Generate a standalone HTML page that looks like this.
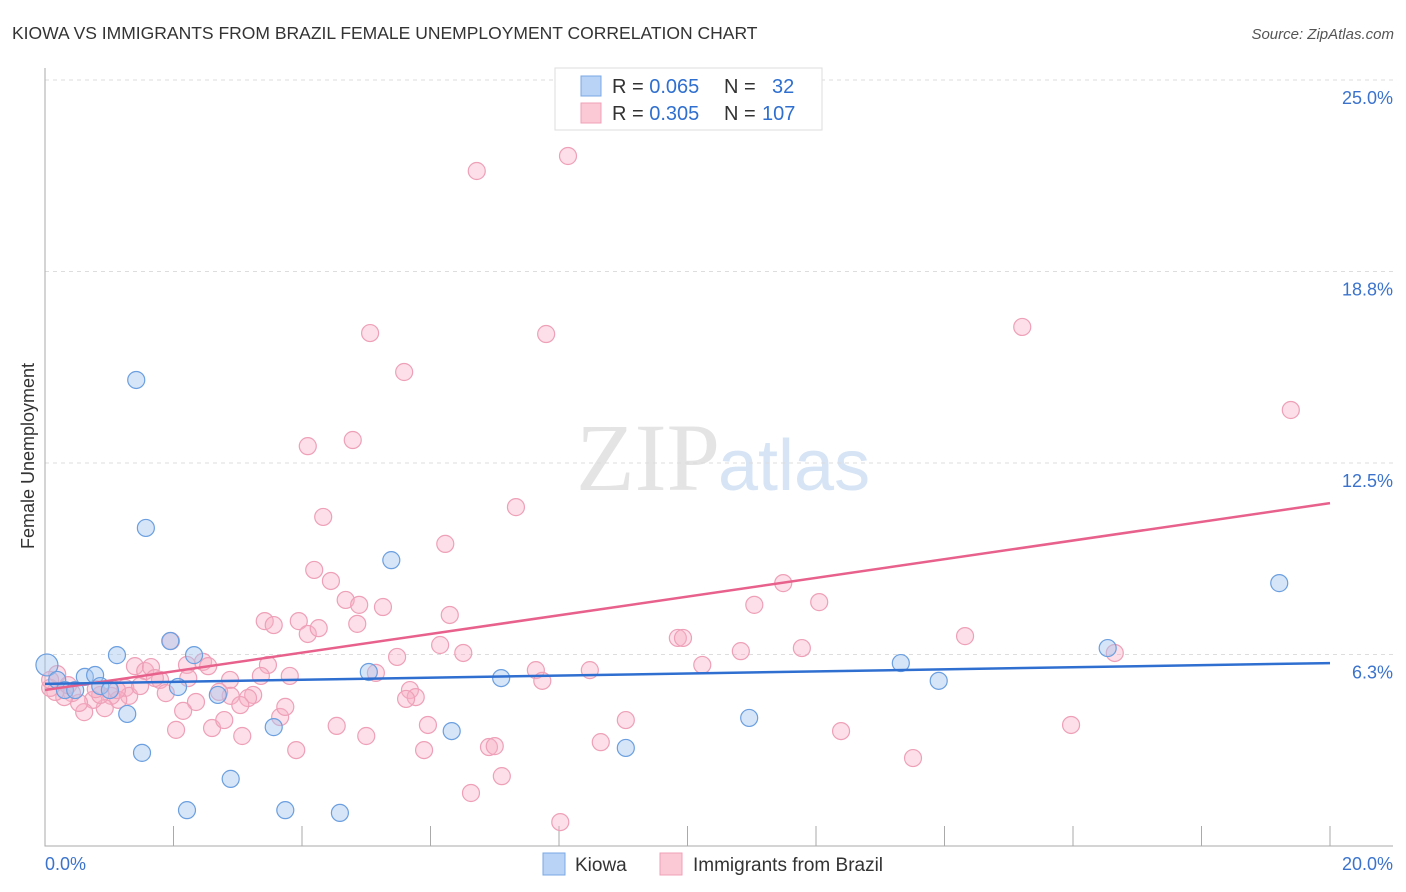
<!DOCTYPE html>
<html><head><meta charset="utf-8"><style>
body{margin:0;background:#fff;font-family:"Liberation Sans",sans-serif}
svg{display:block}
</style></head><body>
<svg id="c" width="1406" height="892">
<text x="12" y="39" font-size="17.5" fill="#333">KIOWA VS IMMIGRANTS FROM BRAZIL FEMALE UNEMPLOYMENT CORRELATION CHART</text>
<text x="1394" y="39" font-size="15" fill="#555" text-anchor="end" font-style="italic">Source: ZipAtlas.com</text>
<text x="720" y="490" font-size="96" fill="#e4e4e4" text-anchor="end" font-family="Liberation Serif,serif">ZIP</text>
<text x="718" y="490" font-size="72" fill="#d6e4f5">atlas</text>
<text transform="translate(34,456) rotate(-90)" font-size="18" fill="#333" text-anchor="middle">Female Unemployment</text>
<g id="grid"></g><g id="axes"></g><g id="pts"></g><g id="trend"></g>
<g>
<rect x="555" y="68" width="267" height="62" fill="#fff" stroke="#ddd"/>
<rect x="581" y="76" width="20" height="20" fill="#b8d3f5" stroke="#7aa8e5"/>
<rect x="581" y="103" width="20" height="20" fill="#fbc8d6" stroke="#f0a0b8"/>
<text x="612" y="93" font-size="20" fill="#333">R = <tspan fill="#2f6fd0">0.065</tspan><tspan x="724">N = </tspan><tspan x="772" fill="#2f6fd0">32</tspan></text>
<text x="612" y="120" font-size="20" fill="#333">R = <tspan fill="#2f6fd0">0.305</tspan><tspan x="724">N = </tspan><tspan x="762" fill="#2f6fd0">107</tspan></text>
</g>
<g>
<rect x="543" y="853" width="22" height="22" fill="#b8d3f5" stroke="#7aa8e5"/>
<text x="575" y="871" font-size="19" fill="#333">Kiowa</text>
<rect x="660" y="853" width="22" height="22" fill="#fbc8d6" stroke="#f0a0b8"/>
<text x="693" y="871" font-size="19" fill="#333">Immigrants from Brazil</text>
</g>
</svg>
<script>
const yTicks=[25,18.75,12.5,6.25];
const yTickLabels=["25.0%","18.8%","12.5%","6.3%"];
const xTickLabels=["0.0%","20.0%"];
const kiowaX=[0.03,0.19,0.31,0.47,0.62,0.78,0.86,1.01,1.12,1.28,1.42,1.51,1.57,1.95,2.07,2.21,2.32,2.69,2.89,3.56,3.74,4.59,5.04,5.39,6.33,7.10,9.04,10.96,13.32,13.91,16.54,19.21];
const kiowaY=[5.91,5.42,5.09,5.09,5.52,5.58,5.22,5.09,6.23,4.31,15.21,3.04,10.38,6.69,5.19,1.17,6.23,4.93,2.19,3.88,1.17,1.08,5.68,9.33,3.75,5.48,3.20,4.18,5.97,5.39,6.46,8.58];
const brazilX=[11.88,8.14,6.72,15.21,5.06,7.80,5.59,19.39,4.09,4.79,7.33,4.33,6.23,4.19,4.45,4.68,4.89,5.26,11.49,11.04,12.05,6.30,3.42,3.56,3.95,4.09,4.26,4.86,9.85,9.93,14.32,6.15,6.51,5.48,10.83,11.78,16.65,2.46,2.54,2.21,1.96,1.40,1.56,1.65,1.79,1.88,2.23,3.47,3.81,3.36,2.88,5.15,7.64,8.48,10.23,7.74,5.68,5.77,5.62,3.24,3.16,2.89,2.71,2.35,2.15,2.04,2.60,2.79,3.04,3.07,3.66,3.74,4.54,5.00,5.96,9.04,12.39,15.97,3.91,5.90,6.91,7.00,8.65,13.51,7.11,6.63,8.02,1.25,1.31,1.14,1.03,0.93,0.75,0.61,0.53,0.42,0.30,0.16,0.08,0.19,1.48,1.71,0.86,0.79,1.12,0.36,0.08];
const brazilY=[25.0,22.52,22.03,16.94,16.74,16.71,15.47,14.23,13.05,13.25,11.06,10.74,9.86,9.01,8.65,8.03,7.87,7.80,8.58,7.87,7.96,7.54,7.34,7.21,7.34,6.92,7.11,7.25,6.79,6.79,6.85,6.56,6.30,6.17,6.36,6.46,6.30,6.01,5.87,5.91,6.69,5.87,5.71,5.84,5.42,4.99,5.48,5.91,5.55,5.55,5.42,5.65,5.74,5.74,5.91,5.39,5.09,4.86,4.80,4.93,4.83,4.90,5.03,4.70,4.41,3.79,3.85,4.11,4.60,3.59,4.21,4.54,3.92,3.59,3.95,4.11,3.75,3.95,3.13,3.13,3.23,3.26,3.39,2.87,2.28,1.73,0.78,5.16,4.90,4.77,4.90,4.50,4.77,4.37,4.67,4.99,4.86,5.03,5.16,5.61,5.22,5.48,4.93,5.12,5.09,5.25,5.42];
const kiowaTrend=[5.29,5.97];
const brazilTrend=[5.09,11.19];
const NS="http://www.w3.org/2000/svg";
const X0=45,X1=1330,Y0=846,YT=80;
const sx=v=>X0+(v/20)*(X1-X0);
const sy=v=>Y0-(v/25)*(Y0-YT);
function mk(tag,attrs,parent){const e=document.createElementNS(NS,tag);for(const k in attrs)e.setAttribute(k,attrs[k]);parent.appendChild(e);return e;}
const grid=document.getElementById('grid'),axes=document.getElementById('axes'),pts=document.getElementById('pts'),tr=document.getElementById('trend');
yTicks.forEach((t,i)=>{
 const l=mk('line',{x1:X0,x2:1393,y1:sy(t),y2:sy(t),stroke:'#ddd','stroke-dasharray':'4,4'},grid);
 
 
 const tx=mk('text',{x:1393,y:sy(t)+24,'font-size':18,fill:'#3b73cc','text-anchor':'end'},grid);
 tx.textContent=yTickLabels[i];
 
 
});
const ax=mk('path',{d:`M${X0},68V${Y0}H1393`,stroke:'#aaa',fill:'none'},axes);


for(let i=1;i<=10;i++){
 const t=mk('line',{x1:sx(i*2),x2:sx(i*2),y1:Y0,y2:Y0-20,stroke:'#aaa'},axes);
 
 
}
[[0,'start',45],[20,'end',1393]].forEach((d,i)=>{
 const tx=mk('text',{x:d[2],y:870,'font-size':18,fill:'#3b73cc','text-anchor':d[1]},axes);
 tx.textContent=xTickLabels[i];
 
 
});
function plot(xs,ys,fill,stroke,name){
 xs.forEach((x,i)=>{
  const r=(x<0.2&&i>=0)?(name==='kiowa-point'&&i===0?11:8.5):8.5;
  const c=mk('circle',{cx:sx(x),cy:sy(ys[i]),r:r,fill:fill,stroke:stroke,'stroke-width':1.2},pts);
  
  
 });
}
plot(brazilX,brazilY,'rgba(248,175,198,0.4)','#eea0b8','brazil-point');
plot(kiowaX,kiowaY,'rgba(165,198,240,0.45)','#6b9fe0','kiowa-point');
const l1=mk('line',{x1:sx(0),y1:sy(brazilTrend[0]),x2:sx(20),y2:sy(brazilTrend[1]),stroke:'#e8608c','stroke-width':2.5},tr);


const l2=mk('line',{x1:sx(0),y1:sy(kiowaTrend[0]),x2:sx(20),y2:sy(kiowaTrend[1]),stroke:'#2f6fd0','stroke-width':2.5},tr);


</script>
</body></html>
